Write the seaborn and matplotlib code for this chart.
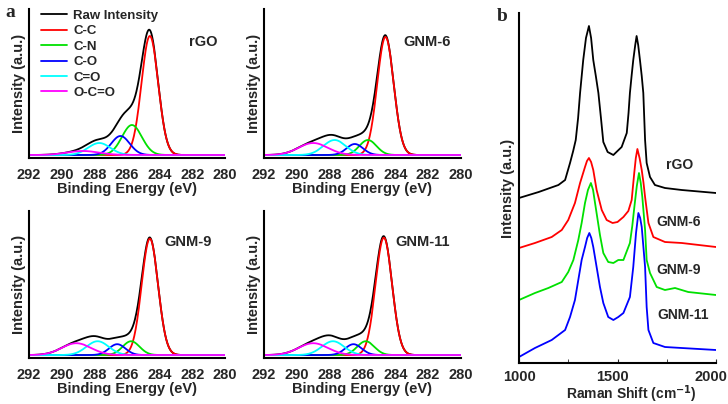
import numpy as np
import pandas as pd
import matplotlib
matplotlib.use("Agg")
import matplotlib.pyplot as plt
import matplotlib.transforms as mtransforms
import seaborn as sns

sns.set_style("white")
plt.rcParams['font.family'] = ['Liberation Sans', 'DejaVu Sans']
plt.rcParams['font.weight'] = 'bold'
plt.rcParams['axes.labelweight'] = 'bold'

# XPS C1s peak fits: (C-C, C-N, C-O, C=O, O-C=O), heights in a.u.
components = ["C-C", "C-N", "C-O", "C=O", "O-C=O"]
comp_colors = ["#ff0000", "#00e000", "#0000ff", "#00ffff", "#ff00ff"]
xps_samples = ["rGO", "GNM-6", "GNM-9", "GNM-11"]

centers_rgo = [284.6, 285.7, 286.4, 287.7, 288.7]
heights_rgo = [119, 30, 19, 12, 4]
fwhm_rgo = [1.2, 1.43, 1.33, 1.6, 2.3]

centers_gnm6 = [284.6, 285.67, 286.47, 287.7, 289.0]
heights_gnm6 = [118, 15, 11, 15, 12]
fwhm_gnm6 = [1.18, 1.22, 1.18, 1.6, 2.1]

centers_gnm9 = [284.6, 285.75, 286.6, 287.8, 289.1]
heights_gnm9 = [118, 14, 11, 14, 12]
fwhm_gnm9 = [1.18, 1.22, 1.18, 1.6, 2.1]

centers_gnm11 = [284.7, 285.8, 286.55, 287.8, 289.0]
heights_gnm11 = [119, 14, 11, 14, 12]
fwhm_gnm11 = [1.18, 1.22, 1.18, 1.6, 2.1]

xps_fits = {
    "rGO": (centers_rgo, heights_rgo, fwhm_rgo),
    "GNM-6": (centers_gnm6, heights_gnm6, fwhm_gnm6),
    "GNM-9": (centers_gnm9, heights_gnm9, fwhm_gnm9),
    "GNM-11": (centers_gnm11, heights_gnm11, fwhm_gnm11),
}

# Raman spectra (stacked, a.u.)
shift_rgo = [1000, 1100, 1200, 1234, 1259, 1275, 1288, 1300, 1310, 1326, 1340, 1355, 1366,
             1377, 1390, 1403, 1416, 1428, 1450, 1479, 1521, 1547, 1556, 1563, 1572, 1580,
             1590, 1597, 1605, 1614, 1623, 1631, 1640, 1648, 1665, 1690, 1741, 1826, 2000]
int_rgo = [165, 171, 178, 183, 200, 212, 223, 245, 270, 303, 325, 337, 325,
           303, 287, 270, 245, 221, 211, 208, 216, 230, 250, 270, 288, 303,
           318, 327, 318, 303, 287, 270, 223, 200, 186, 178, 175, 173, 170]

shift_gnm6 = [1000, 1081, 1166, 1217, 1250, 1284, 1310, 1335, 1345, 1355, 1366, 1377, 1394,
              1420, 1445, 1475, 1500, 1530, 1555, 1572, 1585, 1593, 1601, 1612, 1623, 1632,
              1640, 1657, 1682, 1741, 1826, 2000]
int_gnm6 = [115, 120, 126, 133, 143, 160, 180, 196, 202, 205, 201, 193, 173,
            153, 143, 140, 141, 146, 152, 163, 190, 205, 214, 205, 193, 180,
            166, 140, 126, 121, 120, 116]

shift_gnm9 = [1000, 1081, 1149, 1217, 1250, 1276, 1301, 1318, 1335, 1350, 1365, 1376, 1386,
              1411, 1428, 1453, 1479, 1504, 1530, 1563, 1575, 1585, 1598, 1609, 1618, 1626,
              1640, 1648, 1665, 1699, 1741, 1792, 1859, 2000]
int_gnm9 = [63, 70, 75, 81, 91, 103, 123, 140, 160, 173, 180, 173, 160,
            128, 110, 101, 100, 103, 103, 120, 137, 155, 177, 190, 180, 166,
            133, 103, 90, 76, 73, 75, 71, 68]

shift_gnm11 = [1000, 1081, 1166, 1234, 1259, 1284, 1301, 1318, 1335, 1346, 1357, 1367, 1377,
               1394, 1411, 1428, 1453, 1479, 1504, 1530, 1563, 1580, 1594, 1606, 1615, 1623,
               1640, 1648, 1657, 1682, 1741, 1826, 2000]
int_gnm11 = [6, 15, 23, 33, 46, 63, 83, 103, 116, 125, 130, 125, 116,
             96, 76, 60, 46, 43, 46, 50, 66, 96, 130, 150, 145, 136,
             96, 56, 33, 20, 16, 15, 13]

raman_samples = ["rGO", "GNM-6", "GNM-9", "GNM-11"]
raman_colors = ["black", "#ff0000", "#00e000", "#0000ff"]
raman_data = [(shift_rgo, int_rgo), (shift_gnm6, int_gnm6),
              (shift_gnm9, int_gnm9), (shift_gnm11, int_gnm11)]

fig = plt.figure(figsize=(7.28, 4.04), dpi=100)

xps_pos = [
    [29 / 728, 1 - 158 / 404, 196 / 728, 149 / 404],
    [264 / 728, 1 - 158 / 404, 197 / 728, 149 / 404],
    [29 / 728, 1 - 358 / 404, 196 / 728, 147 / 404],
    [264 / 728, 1 - 358 / 404, 197 / 728, 147 / 404],
]
name_pos = [(0.888, 0.779), (0.827, 0.779), (0.811, 0.791), (0.807, 0.791)]

be = np.linspace(279.5, 292.5, 600)

for i, sample in enumerate(xps_samples):
    ax = fig.add_axes(xps_pos[i])
    cen, hgt, fw = xps_fits[sample]
    comps = []
    for c, h, w in zip(cen, hgt, fw):
        s = w / 2.3548
        comps.append(h * np.exp(-(be - c) ** 2 / (2 * s * s)))
    raw = np.sum(comps, axis=0)
    sns.lineplot(x=be, y=raw, ax=ax, color="black", lw=1.3, label="Raw Intensity")
    for k, comp in enumerate(comps):
        sns.lineplot(x=be, y=comp, ax=ax, color=comp_colors[k], lw=1.3, label=components[k])
    ax.set_xlim(292, 280)
    ax.set_ylim(-3, 146)
    ax.set_xticks(np.arange(292, 279, -2))
    ax.set_yticks([])
    ax.tick_params(axis="x", direction="in", length=2, labelsize=10.5, pad=7.5)
    ax.set_xlabel("Binding Energy (eV)", fontsize=10.5, labelpad=0)
    ax.set_ylabel("Intensity (a.u.)", fontsize=10.5, labelpad=2)
    for sp in ["top", "right"]:
        ax.spines[sp].set_visible(False)
    for sp in ["left", "bottom"]:
        ax.spines[sp].set_linewidth(1.5)
        ax.spines[sp].set_color("black")
    ax.text(name_pos[i][0], name_pos[i][1], sample, transform=ax.transAxes,
            ha="center", va="center", fontsize=10.5, fontweight="bold")
    if i == 0:
        ax.legend(loc="upper left", bbox_to_anchor=(0.06, 0.995), frameon=False,
                  fontsize=9.5, handlelength=2.0, handletextpad=0.45,
                  labelspacing=0.24, borderaxespad=0, borderpad=0)
    else:
        ax.get_legend().remove()

# Raman panel
axb = fig.add_axes([519 / 728, 1 - 363 / 404, 197 / 728, 350 / 404])
for k, (sh, it) in enumerate(raman_data):
    sns.lineplot(x=sh, y=it, ax=axb, color=raman_colors[k], lw=1.3)
axb.set_xlim(1000, 2000)
axb.set_ylim(0, 350)
axb.set_xticks([1000, 1500, 2000])
axb.set_xticks([1250, 1750], minor=True)
axb.set_yticks([])
axb.tick_params(axis="x", which="both", direction="in", length=3, labelsize=10.5, pad=5,
                bottom=True)
shift_left = mtransforms.ScaledTranslation(-5 / 100, 0, fig.dpi_scale_trans)
for lab in axb.get_xticklabels()[1:]:
    lab.set_transform(lab.get_transform() + shift_left)
axb.set_xlabel("Raman Shift (cm$^{-1}$)", fontsize=10, labelpad=0)
axb.xaxis.set_label_coords(0.57, -0.058)
axb.set_ylabel("Intensity (a.u.)", fontsize=10.5, labelpad=3)
for sp in ["top", "right"]:
    axb.spines[sp].set_visible(False)
for sp in ["left", "bottom"]:
    axb.spines[sp].set_linewidth(1.5)
    axb.spines[sp].set_color("black")

raman_label_x = [1817, 1812, 1812, 1832]
raman_label_y = [198, 141, 93, 48]
for k, name in enumerate(raman_samples):
    axb.text(raman_label_x[k], raman_label_y[k], name, ha="center", va="center",
             fontsize=10, fontweight="bold")

fig.text(0.014, 0.970, "a", family="Liberation Serif", fontsize=14, fontweight="bold",
         ha="center", va="center")
fig.text(0.690, 0.960, "b", family="Liberation Serif", fontsize=14, fontweight="bold",
         ha="center", va="center")

fig.savefig("out.png", dpi=100)
